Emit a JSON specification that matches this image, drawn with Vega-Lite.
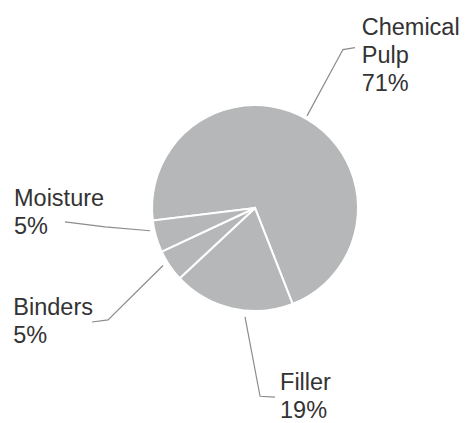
{
  "$schema": "https://vega.github.io/schema/vega-lite/v6.json",
  "width": 465,
  "height": 423,
  "autosize": {"type": "fit", "contains": "padding"},
  "padding": 0,
  "background": "white",
  "config": {"view": {"stroke": null}},
  "datasets": {
    "slices": [
      {"part": "Chemical Pulp", "pct": 71, "rank": 1},
      {"part": "Filler", "pct": 19, "rank": 2},
      {"part": "Binders", "pct": 5, "rank": 3},
      {"part": "Moisture", "pct": 5, "rank": 4}
    ],
    "leaders": [
      {"part": "Chemical Pulp", "step": 1, "lx": 50.5, "ly": 90.3},
      {"part": "Chemical Pulp", "step": 2, "lx": 85.4, "ly": 155.3},
      {"part": "Chemical Pulp", "step": 3, "lx": 97.1, "ly": 157.3},
      {"part": "Moisture", "step": 1, "lx": -184.5, "ly": -13.6},
      {"part": "Moisture", "step": 2, "lx": -145.6, "ly": -18.4},
      {"part": "Moisture", "step": 3, "lx": -101.9, "ly": -22.3},
      {"part": "Binders", "step": 1, "lx": -158.3, "ly": -111.7},
      {"part": "Binders", "step": 2, "lx": -142.7, "ly": -109.7},
      {"part": "Binders", "step": 3, "lx": -89.3, "ly": -56.3},
      {"part": "Filler", "step": 1, "lx": -9.7, "ly": -106.8},
      {"part": "Filler", "step": 2, "lx": 4.9, "ly": -184.5},
      {"part": "Filler", "step": 3, "lx": 19.4, "ly": -185.4}
    ],
    "labels": [
      {"label": "Chemical\nPulp\n71%", "tx": 103.6, "ty": 169.2},
      {"label": "Moisture\n5%", "tx": -234.0, "ty": 2.2},
      {"label": "Binders\n5%", "tx": -234.7, "ty": -104.6},
      {"label": "Filler\n19%", "tx": 24.3, "ty": -178.6}
    ]
  },
  "layer": [
    {
      "data": {"name": "slices"},
      "mark": {"type": "arc", "outerRadius": 103, "fill": "#b5b7b9", "stroke": "white", "strokeWidth": 2},
      "encoding": {
        "theta": {"field": "pct", "type": "quantitative", "stack": true, "scale": {"range": [-1.693, 4.590]}},
        "order": {"field": "rank", "type": "quantitative"},
        "x": {"datum": 0, "type": "quantitative", "scale": {"domain": [-247.6, 203.9], "nice": false, "zero": false}, "axis": null},
        "y": {"datum": 0, "type": "quantitative", "scale": {"domain": [-206.8, 203.9], "nice": false, "zero": false}, "axis": null}
      }
    },
    {
      "data": {"name": "leaders"},
      "mark": {"type": "line", "stroke": "#8c8c8c", "strokeWidth": 1.2},
      "encoding": {
        "x": {"field": "lx", "type": "quantitative", "axis": null},
        "y": {"field": "ly", "type": "quantitative", "axis": null},
        "detail": {"field": "part"},
        "order": {"field": "step", "type": "quantitative"}
      }
    },
    {
      "data": {"name": "labels"},
      "mark": {"type": "text", "align": "left", "baseline": "alphabetic", "lineBreak": "\n", "lineHeight": 28, "font": "Liberation Sans", "fontSize": 23.5, "fill": "#333333"},
      "encoding": {
        "x": {"field": "tx", "type": "quantitative", "axis": null},
        "y": {"field": "ty", "type": "quantitative", "axis": null},
        "text": {"field": "label"}
      }
    }
  ]
}
